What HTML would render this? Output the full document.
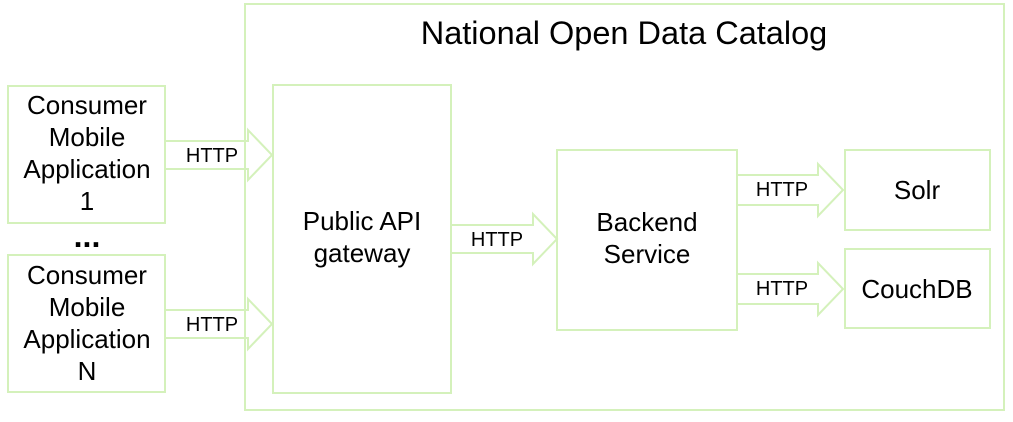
<!DOCTYPE html>
<html><head><style>body{margin:0;background:#fff}svg{display:block}text{font-family:"Liberation Sans",sans-serif;fill:#000}</style></head><body>
<svg width="1013" height="422" viewBox="0 0 1013 422">
<g fill="none" stroke="#d4f1bb" stroke-width="2">
<rect x="245" y="4" width="759" height="406"/>
<rect x="8" y="86" width="157" height="137"/>
<rect x="8" y="255" width="157" height="137"/>
<rect x="273" y="85" width="178" height="308"/>
<rect x="557" y="150" width="180" height="180"/>
<rect x="845" y="150" width="145" height="80"/>
<rect x="845" y="249" width="145" height="79"/>
<path d="M165 141H248V130L272 155L248 180V169H165"/>
<path d="M165 310H248V299L272 324L248 349V338H165"/>
<path d="M451 225H533V214L557 239L533 264V253H451"/>
<path d="M737 175H818V164L843 190L818 216V205H737"/>
<path d="M737 274H818V263L843 289L818 315V304H737"/>
</g>
<g font-size="26" text-anchor="middle">
<text x="624" y="44" font-size="32.5">National Open Data Catalog</text>
<text x="87" y="114">Consumer</text><text x="87" y="146">Mobile</text><text x="87" y="178">Application</text><text x="87" y="210">1</text>
<text x="87" y="284">Consumer</text><text x="87" y="316">Mobile</text><text x="87" y="348">Application</text><text x="87" y="380">N</text>
<text x="87" y="247" font-size="32" font-weight="bold">...</text>
<text x="362" y="230">Public API</text><text x="362" y="262">gateway</text>
<text x="647" y="231">Backend</text><text x="647" y="263">Service</text>
<text x="917" y="199">Solr</text>
<text x="917" y="298">CouchDB</text>
</g>
<g font-size="20" text-anchor="middle">
<text x="212" y="162">HTTP</text>
<text x="212" y="331">HTTP</text>
<text x="497" y="246">HTTP</text>
<text x="782" y="196">HTTP</text>
<text x="782" y="295">HTTP</text>
</g>
</svg>
</body></html>
